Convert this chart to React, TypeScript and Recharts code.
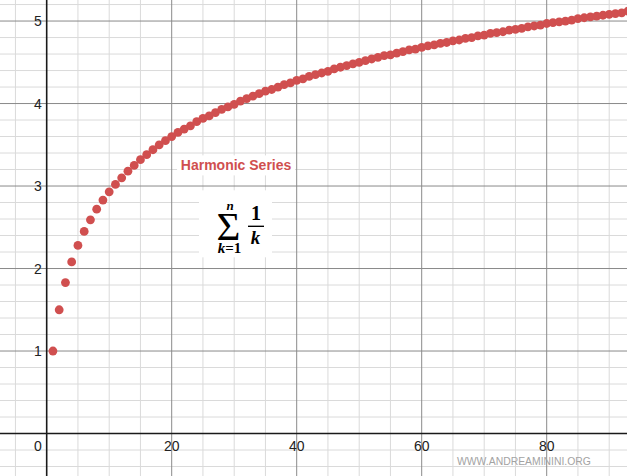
import { ScatterChart, Scatter, XAxis, YAxis, ReferenceLine, ReferenceDot } from 'recharts'

// partial sums H(n) = 1 + 1/2 + ... + 1/n for n = 1..93
const partialSums = [
  1.0, 1.5, 1.83, 2.08, 2.28, 2.45, 2.59, 2.72, 2.83, 2.93,
  3.02, 3.1, 3.18, 3.25, 3.32, 3.38, 3.44, 3.5, 3.55, 3.6,
  3.65, 3.69, 3.73, 3.78, 3.82, 3.85, 3.89, 3.93, 3.96, 3.99,
  4.03, 4.06, 4.09, 4.12, 4.15, 4.17, 4.2, 4.23, 4.25, 4.28,
  4.3, 4.33, 4.35, 4.37, 4.39, 4.42, 4.44, 4.46, 4.48, 4.5,
  4.52, 4.54, 4.56, 4.58, 4.59, 4.61, 4.63, 4.65, 4.66, 4.68,
  4.7, 4.71, 4.73, 4.74, 4.76, 4.77, 4.79, 4.8, 4.82, 4.83,
  4.85, 4.86, 4.87, 4.89, 4.9, 4.91, 4.93, 4.94, 4.95, 4.97,
  4.98, 4.99, 5.0, 5.01, 5.03, 5.04, 5.05, 5.06, 5.07, 5.08,
  5.09, 5.1, 5.12,
]

const xTickLabels = [0, 20, 40, 60, 80]
const yTickLabels = [1, 2, 3, 4, 5]
const majorX = [20, 40, 60, 80]
const majorY = [1, 2, 3, 4, 5]
const minorX = [-5, 5, 10, 15, 25, 30, 35, 45, 50, 55, 65, 70, 75, 85, 90]
const minorY = [
  -0.4, -0.2, 0.2, 0.4, 0.6, 0.8, 1.2, 1.4, 1.6, 1.8, 2.2, 2.4, 2.6, 2.8,
  3.2, 3.4, 3.6, 3.8, 4.2, 4.4, 4.6, 4.8, 5.2,
]

const X_DOMAIN: [number, number] = [-7.47, 92.85]
const Y_DOMAIN: [number, number] = [-0.515, 5.255]

const RED = '#d04f4f'
const SANS = '"Liberation Sans", Arial, sans-serif'
const SERIF = '"Liberation Serif", "DejaVu Serif", serif'

const data = partialSums.map((s, i) => ({ n: i + 1, sum: s }))

function Dot(props: any) {
  const { cx, cy } = props
  if (cx == null || cy == null) return null
  return <circle cx={cx} cy={cy} r={4.4} fill={RED} />
}

function SeriesLabel(props: any) {
  const { cx, cy } = props
  return (
    <g>
      <rect x={cx - 59} y={cy - 10} width={118} height={20} fill="#fff" />
      <text x={cx} y={cy + 5} textAnchor="middle" fontFamily={SANS} fontSize={14} fontWeight="bold" fill={RED}>
        Harmonic Series
      </text>
    </g>
  )
}

function Formula(props: any) {
  const { cx, cy } = props
  return (
    <g fontFamily={SERIF} fill="#000">
      <rect x={cx - 38} y={cy - 32} width={73} height={67} fill="#fff" />
      <text x={cx - 8.5} y={cy + 18} textAnchor="middle" fontSize={41}>
        Σ
      </text>
      <text x={cx - 7} y={cy - 12} textAnchor="middle" fontSize={13} fontStyle="italic" fontWeight="bold">
        n
      </text>
      <text x={cx - 7.5} y={cy + 31} textAnchor="middle" fontSize={15} fontWeight="bold">
        <tspan fontStyle="italic">k</tspan>=1
      </text>
      <text x={cx + 19} y={cy - 2} textAnchor="middle" fontSize={20} fontWeight="bold">
        1
      </text>
      <line x1={cx + 11} x2={cx + 27} y1={cy + 4} y2={cy + 4} stroke="#000" strokeWidth={1.4} />
      <text x={cx + 18.5} y={cy + 22} textAnchor="middle" fontSize={19} fontStyle="italic" fontWeight="bold">
        k
      </text>
    </g>
  )
}

export default function App() {
  return (
    <div style={{ position: 'relative', width: 627, height: 476, background: '#fff' }}>
      <style>{'body{margin:0}'}</style>
      <ScatterChart width={627} height={476} margin={{ top: 0, right: 0, bottom: 0, left: 0 }}>
        <XAxis type="number" dataKey="n" domain={X_DOMAIN} allowDataOverflow hide />
        <YAxis type="number" dataKey="sum" domain={Y_DOMAIN} allowDataOverflow hide width={0} />

        {minorX.map((v) => (
          <ReferenceLine key={'mx' + v} x={v} stroke="#dadada" strokeWidth={1} />
        ))}
        {minorY.map((v) => (
          <ReferenceLine key={'my' + v} y={v} stroke="#dadada" strokeWidth={1} />
        ))}
        {majorX.map((v) => (
          <ReferenceLine key={'Mx' + v} x={v} stroke="#8a8a8a" strokeWidth={1} />
        ))}
        {majorY.map((v) => (
          <ReferenceLine key={'My' + v} y={v} stroke="#8a8a8a" strokeWidth={1} />
        ))}
        <ReferenceLine x={0} stroke="#1a1a1a" strokeWidth={1.6} />
        <ReferenceLine y={0} stroke="#1a1a1a" strokeWidth={1.6} />

        {xTickLabels.map((v) => (
          <ReferenceDot
            key={'xl' + v}
            x={v}
            y={0}
            r={0}
            shape={(p: any) => (
              <text
                x={v === 0 ? p.cx - 5 : p.cx}
                y={p.cy + 17}
                textAnchor={v === 0 ? 'end' : 'middle'}
                fontFamily={SANS}
                fontSize={14}
                fill="#222"
              >
                {v}
              </text>
            )}
          />
        ))}
        {yTickLabels.map((v) => (
          <ReferenceDot
            key={'yl' + v}
            x={0}
            y={v}
            r={0}
            shape={(p: any) => (
              <text x={p.cx - 5} y={p.cy + 5} textAnchor="end" fontFamily={SANS} fontSize={14} fill="#222">
                {v}
              </text>
            )}
          />
        ))}

        <ReferenceDot x={30.3} y={3.25} r={0} shape={SeriesLabel} />
        <ReferenceDot x={30.45} y={2.56} r={0} shape={Formula} />

        <Scatter data={data} shape={Dot} isAnimationActive={false} />
      </ScatterChart>
      <div
        style={{
          position: 'absolute',
          left: 457,
          top: 456,
          fontFamily: SANS,
          fontSize: 10.4,
          color: '#a3a3a3',
          whiteSpace: 'nowrap',
        }}
      >
        WWW.ANDREAMININI.ORG
      </div>
    </div>
  )
}
